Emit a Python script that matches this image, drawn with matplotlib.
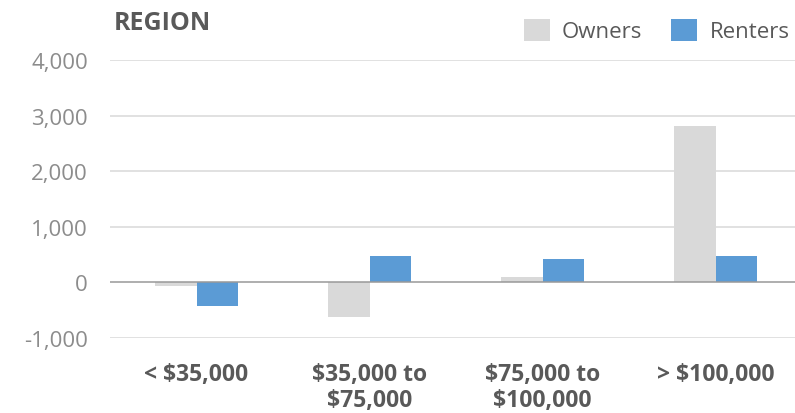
import matplotlib.pyplot as plt
import numpy as np

categories = ['< $35,000', '$35,000 to\n$75,000', '$75,000 to\n$100,000', '> $100,000']
owners = [-60, -630, 100, 2810]
renters = [-430, 470, 420, 470]
yticks = [-1000, 0, 1000, 2000, 3000, 4000]

plt.rcParams['font.family'] = ['Open Sans', 'DejaVu Sans']

fig = plt.figure(figsize=(7.95, 4.14), dpi=100)
ax = fig.add_axes([110 / 795, 1 - 339 / 414, (802 - 110) / 795, (339 - 61) / 414])

x = np.arange(len(categories))
w = 0.237
ax.bar(x - w / 2, owners, w, color='#d9d9d9', label='Owners', zorder=3)
ax.bar(x + w / 2, renters, w, color='#5b9bd5', label='Renters', zorder=3)

ax.set_xlim(-0.5, 3.5)
ax.set_ylim(-1000, 4000)
ax.set_yticks(yticks)
ax.set_yticklabels(['{:,}'.format(v) for v in yticks], color='#8c8c8c', fontsize=16)
ax.set_xticks(x)
ax.set_xticklabels(categories, fontsize=16.5, fontweight='bold', color='#595959', linespacing=1.15)
ax.tick_params(axis='y', length=0, pad=16)
ax.tick_params(axis='x', length=0, pad=17)

for v in yticks:
    if v != 0:
        ax.axhline(v, color='#d9d9d9', lw=1.1, zorder=1)
ax.axhline(0, color='#999999', lw=1.1, zorder=4)
for s in ax.spines.values():
    s.set_visible(False)

fig.text(114 / 795, 1 - 11 / 414, 'REGION', fontsize=18, fontweight='bold', color='#595959', va='top')

ax.legend(loc='upper right', bbox_to_anchor=(805 / 795, 1 - 4 / 414), bbox_transform=fig.transFigure,
          ncol=2, frameon=False, fontsize=16, labelcolor='#595959',
          handlelength=1.17, handleheight=1.17, handletextpad=0.55, columnspacing=1.3,
          borderpad=0.2)

fig.savefig('out.png', dpi=100)
